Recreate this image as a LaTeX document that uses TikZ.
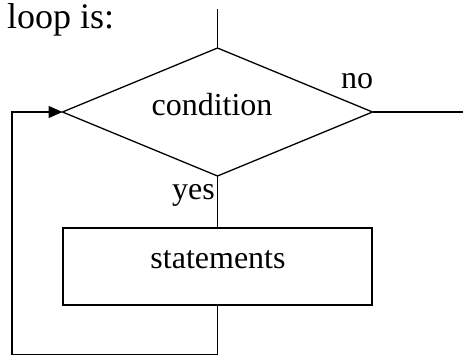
\documentclass[tikz,border=0pt]{standalone}
\usepackage{fontspec}
\setmainfont{Liberation Serif}
\usetikzlibrary{shapes.geometric,arrows.meta}
\begin{document}
\begin{tikzpicture}[x=1pt,y=-1pt,
  conn/.style={line width=1.3pt},
  lbl/.style={font=\fontsize{32}{36}\selectfont, inner sep=0pt, anchor=base},
  decision/.style={diamond, draw, line width=1.3pt, minimum width=310pt, minimum height=128pt, inner sep=0pt, outer sep=0pt},
  stepbox/.style={rectangle, draw, line width=1.3pt, minimum width=309pt, minimum height=77pt, inner sep=0pt, outer sep=0pt}]
\useasboundingbox (0,0) rectangle (463,356);
\node[lbl, anchor=base west, font=\fontsize{36}{40}\selectfont] (title) at (7,28) {loop is:};
\node[decision] (cond) at (217.5,112) {};
\node[stepbox] (stmt) at (217.5,266.5) {};
\node[lbl] (condtxt) at (212,115) {condition};
\node[lbl] (stmttxt) at (218,268) {statements};
\node[lbl, anchor=base east] (yes) at (215,199) {yes};
\node[lbl, anchor=base west] (no) at (341,88) {no};
\coordinate (topend) at (217.5,9);
\coordinate (outend) at (463,112);
\coordinate (bl) at (12,354.5);
\coordinate (br) at (217.5,354.5);
\draw[conn] (topend) -- (cond.north);
\draw[conn] (cond.east) -- (outend);
\draw[conn] (cond.south) -- (stmt.north);
\draw[conn, -{Triangle[length=14pt,width=12pt]}] (stmt.south) -- (br) -- (bl) |- (cond.west);
\end{tikzpicture}
\end{document}
